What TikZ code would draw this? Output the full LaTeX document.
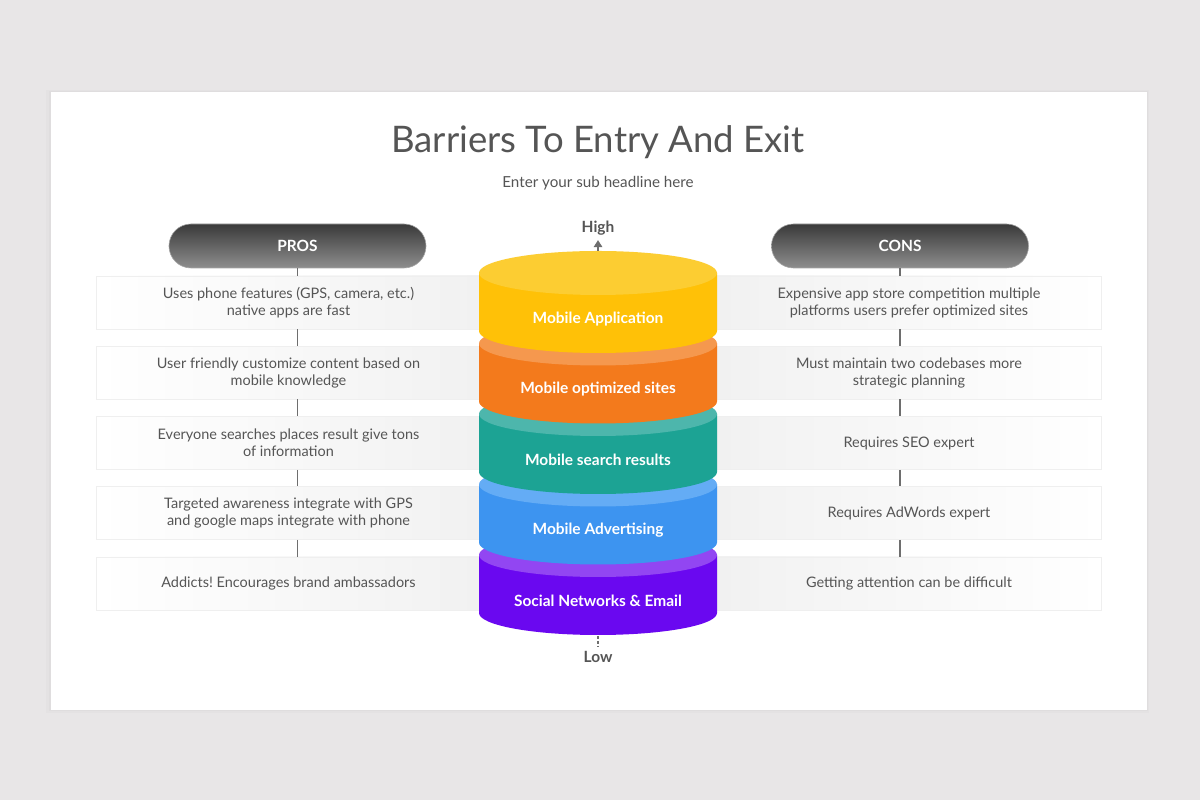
\documentclass[tikz,border=0pt]{standalone}
\usepackage{fontspec}
\setmainfont{Lato}
\usetikzlibrary{positioning,arrows.meta}
\frenchspacing

\definecolor{pagebg}{HTML}{E8E6E7}
\definecolor{ink}{HTML}{555555}
\definecolor{rowgray}{HTML}{F1F1F1}
\definecolor{rowline}{HTML}{EFEFEF}
\definecolor{pilltop}{HTML}{3A3A3A}
\definecolor{pillbot}{HTML}{8E8E8E}
\definecolor{yelside}{HTML}{FFC107}
\definecolor{yeltop}{HTML}{FCCD32}
\definecolor{orgside}{HTML}{F37A1C}
\definecolor{orgtop}{HTML}{F5984E}
\definecolor{tealside}{HTML}{1CA394}
\definecolor{tealtop}{HTML}{4DB6AC}
\definecolor{blueside}{HTML}{3D94F0}
\definecolor{bluetop}{HTML}{64ACF5}
\definecolor{purpside}{HTML}{6A08F0}
\definecolor{purptop}{HTML}{9246F2}

\tikzset{
  pill/.style={draw=pillbot!80, rounded corners=0.55cm, minimum width=6.425cm,
    minimum height=1.1cm, top color=pilltop, bottom color=pillbot,
    text=white, font=\fontsize{11}{13}\selectfont\bfseries},
  rowbox/.style={draw=rowline, minimum width=9.6cm, minimum height=1.325cm,
    text=ink, align=center, font=\fontsize{10.3}{12.2}\selectfont},
  leftrow/.style={rowbox, left color=white, right color=rowgray},
  rightrow/.style={rowbox, left color=rowgray, right color=white},
  disklabel/.style={text=white, font=\fontsize{11}{13}\selectfont\bfseries},
  conn/.style={draw=ink!85, line width=1.3pt},
}

% one tier of the stack: text y, side colour, top colour, name, label
\newcommand\tierdisk[5]{%
  \fill[#2] (479,#1+46) -- (479,#1-12)
    arc[start angle=180,end angle=360,x radius=119,y radius=22]
    -- (717,#1+46) -- cycle;
  \fill[#3] (598,#1+46) ellipse[x radius=119,y radius=22];
  \node[disklabel] (#4) at (598,#1) {#5};
}

\begin{document}
\begin{tikzpicture}[x=0.025cm,y=0.025cm]
\fill[pagebg] (0,0) rectangle (1200,800);
\useasboundingbox (0,0) rectangle (1200,800);
% card with soft shadow
\fill[black, opacity=0.015] (46,87) rectangle (1149,710);
\fill[black, opacity=0.02] (49,89) rectangle (1148,709);
\fill[white] (51,90) rectangle (1147,708);

\node[text=ink, font=\fontsize{26}{30}\selectfont] (title) at (598,658) {Barriers To Entry And Exit};
\node[text=ink, font=\fontsize{10.8}{13}\selectfont] (sub) at (598,617) {Enter your sub headline here};

\node[pill] (pros) at (297.5,554) {PROS};
\node[pill] (cons) at (900,554) {CONS};

% rows
\node[leftrow] (l1) at (288.5,497.5) {Uses phone features (GPS, camera, etc.)\\native apps are fast};
\node[leftrow] (l2) at (288.5,427.3) {User friendly customize content based on\\mobile knowledge};
\node[leftrow] (l3) at (288.5,357) {Everyone searches places result give tons\\of information};
\node[leftrow] (l4) at (288.5,286.8) {Targeted awareness integrate with GPS\\and google maps integrate with phone};
\node[leftrow] (l5) at (288.5,216.5) {Addicts! Encourages brand ambassadors};

\node[rightrow] (r1) at (909,497.5) {Expensive app store competition multiple\\platforms users prefer optimized sites};
\node[rightrow] (r2) at (909,427.3) {Must maintain two codebases more\\strategic planning};
\node[rightrow] (r3) at (909,357) {Requires SEO expert};
\node[rightrow] (r4) at (909,286.8) {Requires AdWords expert};
\node[rightrow] (r5) at (909,216.5) {Getting attention can be difficult};

% connectors
\draw[conn] (pros.south) -- (pros.south |- l1.north);
\draw[conn] (cons.south) -- (cons.south |- r1.north);
\foreach \i/\j in {1/2,2/3,3/4,4/5}{
  \draw[conn] (pros.south |- l\i.south) -- (pros.south |- l\j.north);
  \draw[conn] (cons.south |- r\i.south) -- (cons.south |- r\j.north);
}

% stack, bottom tier first
\tierdisk{199}{purpside}{purptop}{social}{Social Networks \& Email}
\tierdisk{269.5}{blueside}{bluetop}{advert}{Mobile Advertising}
\tierdisk{340}{tealside}{tealtop}{search}{Mobile search results}
\tierdisk{410.5}{orgside}{orgtop}{optim}{Mobile optimized sites}
\tierdisk{481}{yelside}{yeltop}{app}{Mobile Application}

% high / low
\node[text=ink, font=\fontsize{11}{13}\selectfont\bfseries] (high) at (598,572) {High};
\node[text=ink, font=\fontsize{11}{13}\selectfont\bfseries] (low) at (598,143) {Low};
\coordinate (top) at (598,549);
\coordinate (bot) at (598,164);
\draw[ink!85, line width=1.2pt, -{Triangle[length=5pt,width=6pt]}] (top) -- (high.south);
\draw[ink!85, line width=1pt, dashed, dash pattern=on 2pt off 1.5pt] (bot) -- (low.north);
\end{tikzpicture}
\end{document}
